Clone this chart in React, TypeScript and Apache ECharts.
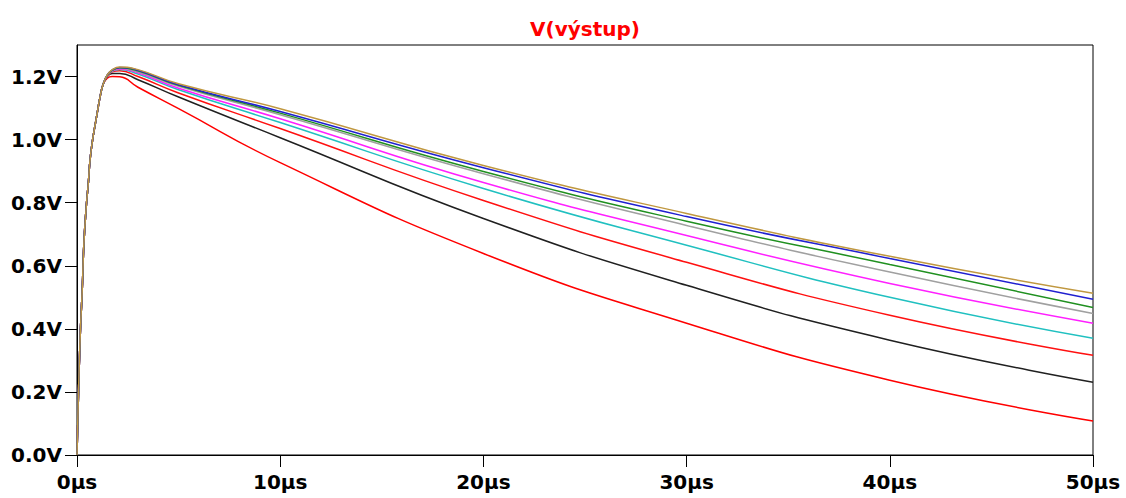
import React, { useEffect, useRef } from "react";
import * as echarts from "echarts";

const titleText = "V(výstup)";
const xTicks = [0, 10, 20, 30, 40, 50];
const yTicks = [0, 0.2, 0.4, 0.6, 0.8, 1.0, 1.2];

// common rising edge (µs, V)
const riseT = [0, 0.05, 0.15, 0.26, 0.34, 0.46, 0.56, 0.64, 0.75, 0.87, 1.0, 1.13, 1.29];
const riseV = [0, 0.136, 0.364, 0.528, 0.671, 0.791, 0.864, 0.934, 0.991, 1.039, 1.086, 1.134, 1.176];

// per-trace tail (µs)
const tailT = [1.49, 1.74, 2.1, 3, 5, 10, 20, 30, 40, 50];
const red2V = [1.195, 1.2, 1.199, 1.166, 1.098, 0.927, 0.639, 0.418, 0.237, 0.108];
const blackV = [1.2, 1.21, 1.21, 1.19, 1.135, 1.006, 0.75, 0.538, 0.364, 0.231];
const redV = [1.201, 1.215, 1.218, 1.2, 1.148, 1.035, 0.807, 0.611, 0.443, 0.316];
const cyanV = [1.202, 1.217, 1.222, 1.208, 1.158, 1.054, 0.845, 0.665, 0.5, 0.37];
const magentaV = [1.203, 1.218, 1.224, 1.212, 1.163, 1.066, 0.864, 0.696, 0.544, 0.418];
const grayV = [1.204, 1.219, 1.226, 1.215, 1.169, 1.079, 0.892, 0.728, 0.58, 0.449];
const greenV = [1.204, 1.22, 1.228, 1.218, 1.172, 1.084, 0.899, 0.741, 0.604, 0.468];
const blueV = [1.205, 1.221, 1.229, 1.22, 1.174, 1.089, 0.911, 0.756, 0.623, 0.494];
const goldV = [1.205, 1.222, 1.23, 1.222, 1.177, 1.098, 0.918, 0.766, 0.63, 0.513];

const traces: { name: string; color: string; values: number[] }[] = [
  { name: "t1", color: "#ff0000", values: red2V },
  { name: "t2", color: "#202020", values: blackV },
  { name: "t3", color: "#ff1010", values: redV },
  { name: "t4", color: "#20c0c0", values: cyanV },
  { name: "t5", color: "#ff20ff", values: magentaV },
  { name: "t6", color: "#a0a0a0", values: grayV },
  { name: "t7", color: "#209020", values: greenV },
  { name: "t8", color: "#2020d0", values: blueV },
  { name: "t9", color: "#c09840", values: goldV },
];

const FONT = "DejaVu Sans";

export default function App() {
  const ref = useRef<HTMLDivElement>(null);
  useEffect(() => {
    if (!ref.current) return;
    const chart = echarts.init(ref.current, null, { renderer: "svg" });
    const series = traces.map((tr) => ({
      name: tr.name,
      type: "line",
      showSymbol: false,
      smooth: 0.5,
      lineStyle: { color: tr.color, width: 1.5 },
      itemStyle: { color: tr.color },
      data: [
        ...riseT.map((t, i) => [t, riseV[i]]),
        ...tailT.map((t, i) => [t, tr.values[i]]),
      ],
    }));
    chart.setOption({
      animation: false,
      backgroundColor: "#ffffff",
      title: {
        text: titleText,
        left: 580,
        textAlign: "center",
        top: 14,
        textStyle: { color: "#ff0000", fontFamily: FONT, fontWeight: "bold", fontSize: 20 },
      },
      grid: {
        left: 77,
        right: 33,
        top: 45,
        bottom: 43,
        show: true,
        borderColor: "#000",
        borderWidth: 1,
        containLabel: false,
      },
      xAxis: {
        type: "value",
        min: 0,
        max: 50,
        interval: 10,
        axisLine: { show: true, lineStyle: { color: "#000", width: 1 } },
        axisTick: { show: true, length: 12, lineStyle: { color: "#000" }, customValues: xTicks },
        axisLabel: {
          customValues: xTicks,
          margin: 17,
          color: "#000",
          fontFamily: FONT,
          fontWeight: "bold",
          fontSize: 20,
          formatter: (v: number) => `${Math.round(v)}µs`,
        },
        splitLine: { show: false },
      },
      yAxis: {
        type: "value",
        min: 0,
        max: 1.3,
        axisLine: { show: true, lineStyle: { color: "#000", width: 1 } },
        axisTick: { show: true, length: 12, lineStyle: { color: "#000" }, customValues: yTicks },
        axisLabel: {
          customValues: yTicks,
          margin: 15,
          color: "#000",
          fontFamily: FONT,
          fontWeight: "bold",
          fontSize: 20,
          formatter: (v: number) => `${v.toFixed(1)}V`,
        },
        splitLine: { show: false },
      },
      series,
    });
    return () => chart.dispose();
  }, []);
  return (
    <div
      ref={ref}
      style={{ position: "fixed", left: 0, top: 0, width: 1126, height: 498, background: "#fff" }}
    />
  );
}
